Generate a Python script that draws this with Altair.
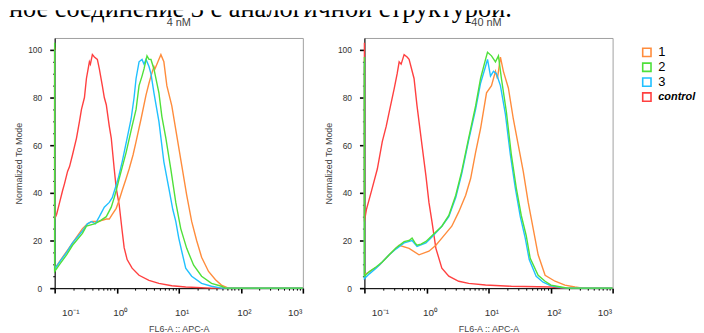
import altair as alt
import pandas as pd

# ---------------- text ----------------
header_text = ["ное соединение 3 с аналогичной структурой."]
panel_titles = ["4 nM", "40 nM"]
series_names = ["1", "2", "3", "control"]
series_colors = ["#ff8c3c", "#4fe03a", "#20c0ff", "#ff4040"]
draw_order = ["control", "1", "3", "2"]
x_decades = [-1, 0, 1, 2, 3]
x_tick_labels = ["10⁻¹", "10⁰", "10¹", "10²", "10³"]
y_title = "Normalized To Mode"
x_title = "FL6-A :: APC-A"

# ---------------- data: log10(FL6-A) and % of mode ----------------
# panel 4 nM
p4_ctrl_lx = [-1, -1, -0.968, -0.92, -0.872, -0.84, -0.792, -0.76, -0.712, -0.648, -0.6, -0.568, -0.52, -0.488, -0.44, -0.424, -0.392, -0.36, -0.312, -0.28, -0.232, -0.2, -0.168, -0.12, -0.088, -0.04, -0.008, 0.04, 0.088, 0.12, 0.168, 0.248, 0.36, 0.52, 0.68, 0.888, 1.112, 1.528, 3.0]
p4_ctrl_y = [101, 29, 31, 36, 41, 44, 49, 51, 56, 63, 70, 75, 80, 88, 95, 94, 98, 97, 96, 92, 85, 80, 77, 68, 63, 50, 42, 35, 24, 17, 12, 8.4, 5.4, 3.3, 2, 1, 0.5, 0, 0]

p4_s2_lx = [-1, -1, -0.92, -0.808, -0.712, -0.552, -0.488, -0.36, -0.28, -0.168, -0.088, -0.04, -0.008, 0.04, 0.152, 0.248, 0.312, 0.36, 0.408, 0.44, 0.488, 0.52, 0.552, 0.6, 0.68, 0.728, 0.792, 0.872, 0.952, 1.032, 1.128, 1.24, 1.368, 1.528, 1.688, 1.752, 3.0]
p4_s2_y = [103, 7, 10, 14, 18, 23, 26, 27, 28, 30, 34, 38, 41, 46, 57, 68, 75, 85, 89, 92, 97.5, 96, 96, 92, 82, 72, 63, 50, 36, 25, 16.7, 9.6, 5, 2, 0.8, 0, 0]

p4_s3_lx = [-1, -1, -0.92, -0.808, -0.712, -0.552, -0.472, -0.408, -0.344, -0.28, -0.2, -0.12, -0.072, -0.024, 0.024, 0.088, 0.168, 0.232, 0.28, 0.312, 0.36, 0.408, 0.44, 0.472, 0.52, 0.552, 0.6, 0.68, 0.76, 0.84, 0.904, 0.952, 1.0, 1.048, 1.112, 1.208, 1.368, 1.528, 1.688, 3.0]
p4_s3_y = [100, 8, 11, 15, 19, 24, 27, 28, 27, 30, 34, 36, 38, 42, 46, 53, 63, 71, 80, 88, 95, 96, 94, 96, 93, 90, 82, 70, 53, 42, 33, 28, 21, 15.5, 8.4, 5, 2, 0.8, 0, 0]

p4_s1_lx = [-1, -1, -0.952, -0.872, -0.792, -0.712, -0.552, -0.472, -0.392, -0.312, -0.232, -0.168, -0.12, -0.072, -0.008, 0.04, 0.088, 0.152, 0.2, 0.264, 0.312, 0.392, 0.472, 0.52, 0.552, 0.6, 0.616, 0.664, 0.712, 0.76, 0.808, 0.888, 0.968, 1.048, 1.128, 1.208, 1.288, 1.368, 1.48, 1.592, 1.688, 1.8, 3.0]
p4_s1_y = [100, 8, 10, 13, 16, 19, 25, 27, 28, 28, 28.5, 29, 29, 31, 33.5, 37, 41, 46, 50, 56, 61.5, 71, 81, 86, 89, 93, 92, 95, 98, 95, 85, 76.5, 64, 51.5, 39, 28, 20, 13, 7, 3.5, 1.3, 0, 0]

# panel 40 nM
p40_ctrl_lx = [-1, -1, -0.968, -0.888, -0.792, -0.712, -0.648, -0.6, -0.52, -0.472, -0.44, -0.408, -0.36, -0.312, -0.28, -0.2, -0.152, -0.072, -0.008, 0.04, 0.088, 0.152, 0.248, 0.36, 0.52, 0.68, 0.952, 1.368, 2.008, 2.2, 3.0]
p40_ctrl_y = [103, 28, 33, 40.6, 50, 61.5, 68, 74, 83.7, 90, 95, 94, 98, 97, 96, 88, 76.5, 60, 47, 36, 28, 16.7, 8.4, 5, 2.9, 2, 1.3, 0.8, 0.5, 0, 0]

p40_s2_lx = [-1, -1, -0.92, -0.808, -0.712, -0.6, -0.488, -0.36, -0.28, -0.232, -0.184, -0.152, -0.088, -0.008, 0.088, 0.248, 0.36, 0.472, 0.568, 0.68, 0.792, 0.872, 0.952, 0.984, 1.048, 1.112, 1.16, 1.208, 1.288, 1.368, 1.448, 1.528, 1.608, 1.672, 1.8, 1.912, 2.008, 2.168, 2.28, 3.0]
p40_s2_y = [97, 5, 7, 9, 11, 14, 17, 19.5, 20, 21, 19, 18, 18.5, 19.6, 22, 26, 30.5, 39, 49, 63, 76.5, 88, 96, 99, 97.5, 95, 97.5, 88, 74, 56, 42, 30.5, 22, 12.5, 5.4, 2.9, 1.3, 0.5, 0, 0]

p40_s3_lx = [-1, -1, -0.92, -0.808, -0.712, -0.6, -0.488, -0.36, -0.232, -0.152, -0.008, 0.088, 0.248, 0.36, 0.472, 0.568, 0.68, 0.792, 0.872, 0.952, 0.984, 1.032, 1.08, 1.128, 1.192, 1.272, 1.352, 1.432, 1.512, 1.592, 1.656, 1.768, 1.88, 2.008, 2.168, 2.28, 3.0]
p40_s3_y = [95, 4, 6, 8.5, 11, 14, 16.5, 19, 20, 17.5, 19, 21.5, 26, 30, 38, 48, 62, 75, 86, 93, 96, 89, 91, 90, 85, 73, 56, 42, 30, 21, 12, 5, 2.5, 1, 0.3, 0, 0]

p40_s1_lx = [-1, -1, -0.952, -0.76, -0.6, -0.44, -0.28, -0.12, 0.04, 0.152, 0.248, 0.408, 0.52, 0.632, 0.712, 0.792, 0.872, 0.968, 1.048, 1.112, 1.144, 1.192, 1.24, 1.32, 1.4, 1.48, 1.56, 1.64, 1.72, 1.8, 1.912, 2.072, 2.232, 2.392, 2.52, 3.0]
p40_s1_y = [93, 6, 6.3, 9.6, 14, 18, 16.7, 14, 15.5, 18, 21, 26, 32, 39, 46, 57, 67, 82, 85, 91, 88, 97, 91, 84, 71, 60, 49, 36, 25, 14, 5.4, 2.9, 1.3, 0.5, 0, 0]

series_table = [
    ("4 nM", "control", p4_ctrl_lx, p4_ctrl_y),
    ("4 nM", "1", p4_s1_lx, p4_s1_y),
    ("4 nM", "2", p4_s2_lx, p4_s2_y),
    ("4 nM", "3", p4_s3_lx, p4_s3_y),
    ("40 nM", "control", p40_ctrl_lx, p40_ctrl_y),
    ("40 nM", "1", p40_s1_lx, p40_s1_y),
    ("40 nM", "2", p40_s2_lx, p40_s2_y),
    ("40 nM", "3", p40_s3_lx, p40_s3_y),
]

rows = []
for panel, s, lx, ys in series_table:
    for i, (a, b) in enumerate(zip(lx, ys)):
        rows.append({"panel": panel, "series": s, "i": i, "x": 10 ** a, "y": b})
df = pd.DataFrame(rows)

# ---------------- layout constants ----------------
PLOT_W, PLOT_H = 250, 252
LEFT_GAP = 3          # space before the first panel's y-axis title
PANEL_GAP = 17        # space between the two panels
PLOT1_LEFT = 46       # resulting left edge of the first plot area in the svg
PLOT_STEP = 310       # distance between the two plot areas
HEADER_H = 20

# ---------------- axes ----------------
x_tick_values = [m * 10 ** k for k in range(-1, 3) for m in range(1, 10)] + [1000]
lg = "round(log(datum.value)/LN10)"
dec_test = f"abs(log(datum.value)/LN10 - {lg}) < 0.0001"
lab = "''"
for d, t in reversed(list(zip(x_decades, x_tick_labels))):
    lab = f"({lg} == {d} ? '{t}' : {lab})"
x_label_expr = f"{dec_test} ? {lab} : ''"

y_tick_values = list(range(0, 101, 5))

x_axis = alt.Axis(
    values=x_tick_values,
    labelExpr=x_label_expr,
    tickSize={"condition": {"test": dec_test, "value": 5}, "value": 2},
    tickWidth={"condition": {"test": dec_test, "value": 1.6}, "value": 1},
    labelFontSize=10,
    labelPadding=15,
    labelOffset=3,
    labelFlush=True,
    labelFlushOffset=-4,
    labelOverlap=False,
    title=x_title,
    titleFontSize=9,
    titlePadding=7,
)
y_axis = alt.Axis(
    values=y_tick_values,
    labelExpr="datum.value % 20 == 0 ? datum.label : ''",
    tickSize={"condition": {"test": "datum.value % 20 == 0", "value": 5}, "value": 2},
    tickWidth={"condition": {"test": "datum.value % 20 == 0", "value": 1.6}, "value": 1},
    labelFontSize=8.5,
    labelPadding=8,
    labelOverlap=False,
    title=y_title,
    titleFontSize=9,
    titlePadding=4,
)


def panel(name, show_legend):
    sub = df[df["panel"] == name]
    cscale = alt.Scale(domain=series_names, range=series_colors)
    if show_legend:
        color = alt.Color("series:N", scale=cscale, legend=alt.Legend(
            orient="none", legendX=636, legendY=36,
            title=None, symbolType="square", symbolSize=70, symbolStrokeWidth=1.6,
            labelFontSize={"expr": "datum.label == 'control' ? 11 : 13"},
            labelFontWeight={"expr": "datum.label == 'control' ? 'bold' : 'normal'"},
            labelFontStyle={"expr": "datum.label == 'control' ? 'italic' : 'normal'"},
            labelColor="black", labelFont="Liberation Sans",
            rowPadding=0, labelOffset=5,
        ))
    else:
        color = alt.Color("series:N", scale=cscale)
    layers = []
    for s in draw_order:
        layers.append(
            alt.Chart(sub).transform_filter(alt.datum.series == s)
            .mark_line(strokeWidth=1.4).encode(
                x=alt.X("x:Q", scale=alt.Scale(type="log", domain=[0.1, 1000]), axis=x_axis),
                y=alt.Y("y:Q", scale=alt.Scale(domain=[0, 105]), axis=y_axis),
                order=alt.Order("i:Q"),
                color=color,
            )
        )
    return alt.layer(*layers).properties(width=PLOT_W, height=PLOT_H)


# header strip: the page line above the figure (cut at the top edge) and the panel titles
header_line = alt.Chart(pd.DataFrame({"t": header_text})).mark_text(
    align="left", baseline="alphabetic", font="Liberation Serif", fontSize=26.5, color="black", clip=True
).encode(x=alt.value(0), y=alt.value(7), text="t:N")

title_layers = []
for k, name in enumerate(panel_titles):
    title_layers.append(
        alt.Chart(pd.DataFrame({"t": [name]})).mark_text(
            align="center", baseline="alphabetic", font="Liberation Sans", fontSize=11, color="#444"
        ).encode(x=alt.value(PLOT1_LEFT + k * PLOT_STEP + PLOT_W / 2), y=alt.value(16), text="t:N")
    )

header = alt.layer(header_line, *title_layers).properties(
    width=560, height=HEADER_H, view=alt.ViewBackground(stroke="transparent")
)

spacer = alt.Chart(pd.DataFrame({"a": [0]})).mark_rect(opacity=0).encode(
    x=alt.value(0), x2=alt.value(1), y=alt.value(0), y2=alt.value(1)
).properties(width=1, height=1, view=alt.ViewBackground(stroke="transparent"))

panels = alt.hconcat(panel(panel_titles[0], True), panel(panel_titles[1], False), spacing=PANEL_GAP)
body = alt.hconcat(spacer, panels, spacing=LEFT_GAP)

chart = alt.vconcat(header, body, spacing=6).properties(padding=0).configure_view(
    stroke="#a0a0a0", strokeWidth=1
).configure_axis(
    grid=False, domainColor="black", domainWidth=1, tickColor="black",
    labelColor="#333", titleColor="#444", labelFont="Liberation Sans",
    titleFont="Liberation Sans", titleFontWeight="normal",
)

chart.save("out.html", embed_options={"renderer": "svg", "actions": False})
